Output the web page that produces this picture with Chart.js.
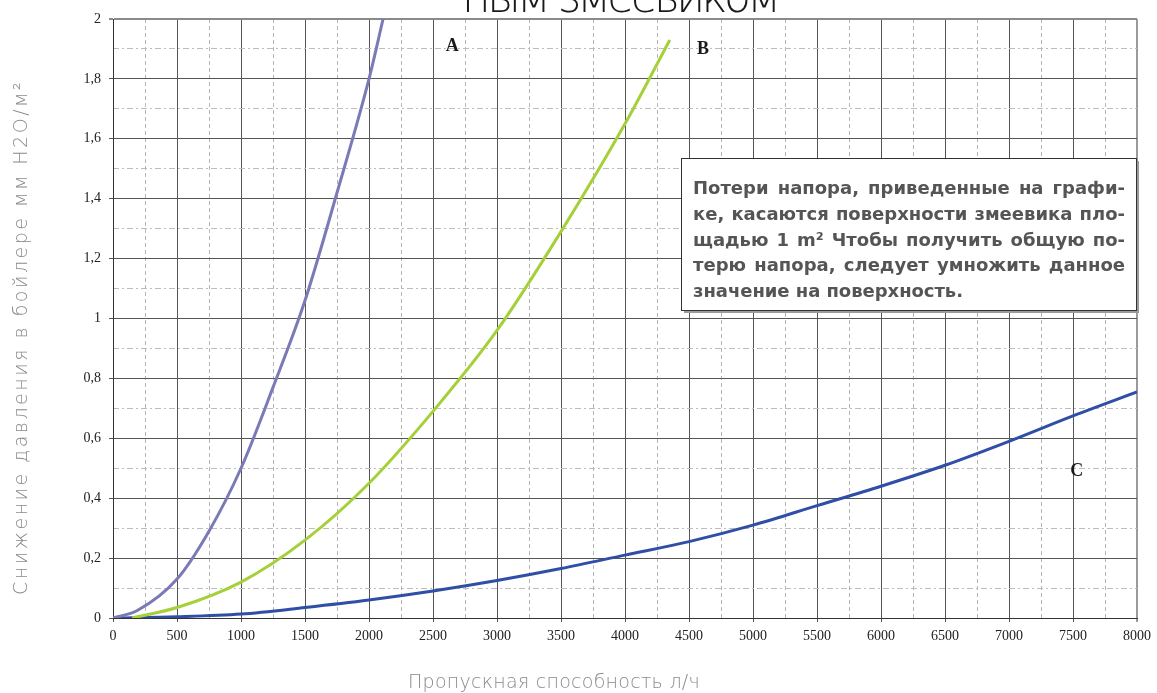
<!DOCTYPE html>
<html>
<head>
<meta charset="utf-8">
<script src="https://cdn.jsdelivr.net/npm/chart.js@4.4.0/dist/chart.umd.min.js"></script>
<style>
  html, body { margin: 0; padding: 0; background: #fff; }
  #wrap { width: 1157px; height: 693px; position: relative; }
</style>
</head>
<body>
<div id="wrap"><canvas id="chart" width="1157" height="693"></canvas></div>
<script>
// кривые снижения давления
var flowA = [0, 190, 500, 750, 1000, 1250, 1500, 1750, 2000, 2110];
var lossA = [0, 0.025, 0.13, 0.29, 0.5, 0.77, 1.06, 1.42, 1.8, 2.0];

var flowB = [150, 500, 1000, 1500, 2000, 2500, 3000, 3500, 4000, 4350];
var lossB = [0, 0.035, 0.12, 0.26, 0.45, 0.69, 0.96, 1.29, 1.65, 1.93];

var flowC = [0, 500, 1000, 1500, 2000, 2500, 3000, 3500, 4000, 4500, 5000, 5500, 6000, 6500, 7000, 7500, 8000];
var lossC = [0, 0.004, 0.013, 0.035, 0.06, 0.09, 0.125, 0.165, 0.21, 0.255, 0.31, 0.375, 0.44, 0.51, 0.59, 0.675, 0.755];

var xTickLabels = ['0', '500', '1000', '1500', '2000', '2500', '3000', '3500', '4000',
                   '4500', '5000', '5500', '6000', '6500', '7000', '7500', '8000'];
var yTickLabels = ['0', '0,2', '0,4', '0,6', '0,8', '1', '1,2', '1,4', '1,6', '1,8', '2'];

// подписи кривых (в координатах данных)
var curveNames = ['A', 'B', 'C'];
var namePosX = [2650, 4610, 7530];
var namePosY = [1.91, 1.9, 0.49];

var titleText = 'ным змеевиком';
var yTitle = 'Снижение давления в бойлере мм H2O/м²';
var xTitle = 'Пропускная способность л/ч';
var noteLines = [
  'Потери напора, приведенные на графи-',
  'ке, касаются поверхности змеевика пло-',
  'щадью 1 m² Чтобы получить общую по-',
  'терю напора, следует умножить данное',
  'значение на поверхность.'
];

function pts(xs, ys) {
  return xs.map(function (x, i) { return { x: x, y: ys[i] }; });
}

// текст с подгонкой ширины через межбуквенный интервал
function fitText(ctx, text, x, y, width) {
  ctx.letterSpacing = '0px';
  var w = ctx.measureText(text).width;
  var sp = (width - w) / text.length;
  ctx.letterSpacing = sp + 'px';
  ctx.fillText(text, x, y);
  ctx.letterSpacing = '0px';
}

function justifyLine(ctx, text, x, y, width) {
  var words = text.split(' ');
  var total = 0;
  words.forEach(function (w) { total += ctx.measureText(w).width; });
  var gap = (width - total) / (words.length - 1);
  var cx = x;
  words.forEach(function (w) {
    ctx.fillText(w, cx, y);
    cx += ctx.measureText(w).width + gap;
  });
}

var extras = {
  id: 'extras',
  afterDatasetsDraw: function (chart) {
    var ctx = chart.ctx;
    var xs = chart.scales.x, ys = chart.scales.y;
    ctx.save();
    // буквы кривых
    ctx.fillStyle = '#1a1a1a';
    ctx.font = 'bold 18px "Liberation Serif"';
    ctx.textAlign = 'center';
    ctx.textBaseline = 'middle';
    curveNames.forEach(function (n, i) {
      ctx.fillText(n, xs.getPixelForValue(namePosX[i]), ys.getPixelForValue(namePosY[i]));
    });

    // примечание
    var bx = 681, by = 158, bw = 455, bh = 152;
    ctx.fillStyle = '#9a9a9a';
    ctx.fillRect(bx + 3, by + 3, bw, bh);
    ctx.fillStyle = '#fff';
    ctx.fillRect(bx, by, bw, bh);
    ctx.strokeStyle = '#333';
    ctx.lineWidth = 1;
    ctx.strokeRect(bx + 0.5, by + 0.5, bw, bh);
    ctx.fillStyle = '#555';
    ctx.font = 'bold 18px "DejaVu Sans"';
    ctx.textAlign = 'left';
    ctx.textBaseline = 'alphabetic';
    noteLines.forEach(function (line, i) {
      var y = 194 + i * 25.8;
      if (i < noteLines.length - 1) justifyLine(ctx, line, 693, y, 432);
      else fitText(ctx, line, 693, y, 270);
    });

    // заголовки
    ctx.fillStyle = '#1a1a1a';
    ctx.font = '200 44px "DejaVu Sans"';
    ctx.textAlign = 'left';
    fitText(ctx, titleText, 462, 12, 315);

    ctx.fillStyle = '#8a8a8a';
    ctx.font = '200 19px "DejaVu Sans"';
    fitText(ctx, xTitle, 408, 688, 292);

    ctx.translate(27, 595);
    ctx.rotate(-Math.PI / 2);
    fitText(ctx, yTitle, 0, 0, 515);
    ctx.restore();
  }
};

var tickFont = { family: '"Liberation Serif"', size: 14 };

new Chart(document.getElementById('chart'), {
  type: 'line',
  data: {
    datasets: [
      { label: 'A', data: pts(flowA, lossA), borderColor: '#7a7ab6', borderWidth: 3 },
      { label: 'B', data: pts(flowB, lossB), borderColor: '#a6d03a', borderWidth: 3 },
      { label: 'C', data: pts(flowC, lossC), borderColor: '#2f4ea6', borderWidth: 3 }
    ]
  },
  options: {
    responsive: false,
    animation: false,
    layout: { padding: { top: 19, right: 17, left: 0, bottom: 0 } },
    elements: {
      point: { radius: 0 },
      line: { cubicInterpolationMode: 'monotone' }
    },
    plugins: {
      legend: { display: false },
      tooltip: { enabled: false }
    },
    scales: {
      x: {
        type: 'linear', min: 0, max: 8000,
        ticks: {
          stepSize: 500, color: '#222', font: tickFont, padding: 6, maxRotation: 0,
          callback: function (v, i) { return xTickLabels[i]; }
        },
        grid: {
          color: function (c) { return c.tick && c.tick.value === 8000 ? '#9a9a9a' : '#555'; },
          lineWidth: function (c) { return c.tick && c.tick.value === 8000 ? 2 : 1; },
          tickLength: 4
        },
        border: { color: '#333', width: 1 },
        afterFit: function (s) { s.height = 75; }
      },
      x2: {
        type: 'linear', min: 0, max: 8000, position: 'bottom',
        ticks: { stepSize: 250, display: false },
        grid: {
          color: function (c) { return c.tick && c.tick.value % 500 === 0 ? 'rgba(0,0,0,0)' : '#b5b5b5'; },
          drawTicks: false
        },
        border: { display: false, dash: [4, 3] },
        afterFit: function (s) { s.height = 0; }
      },
      y: {
        min: 0, max: 2,
        ticks: {
          stepSize: 0.2, color: '#222', font: tickFont, padding: 8,
          callback: function (v, i) { return yTickLabels[i]; }
        },
        grid: {
          color: function (c) { return c.tick && c.tick.value === 2 ? '#8a8a8a' : '#555'; },
          lineWidth: function (c) { return c.tick && c.tick.value === 2 ? 2 : 1; },
          tickLength: 4
        },
        border: { color: '#333', width: 1 },
        afterFit: function (s) { s.width = 113; }
      },
      y2: {
        min: 0, max: 2, position: 'left',
        ticks: { stepSize: 0.1, display: false },
        grid: {
          color: function (c) { return c.index % 2 === 0 ? 'rgba(0,0,0,0)' : '#bdbdbd'; },
          drawTicks: false
        },
        border: { display: false, dash: [6, 3, 2, 3] },
        afterFit: function (s) { s.width = 0; }
      }
    }
  },
  plugins: [extras]
});
</script>
</body>
</html>
